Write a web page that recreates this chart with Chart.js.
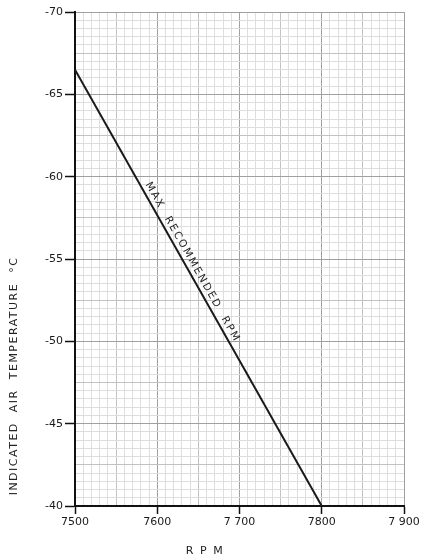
<!DOCTYPE html>
<html>
<head>
<meta charset="utf-8">
<script src="https://cdn.jsdelivr.net/npm/chart.js@4"></script>
<style>
  html, body { margin: 0; padding: 0; background: #fff; }
  #wrap { width: 423px; height: 558px; }
</style>
</head>
<body>
<div id="wrap"><canvas id="ChartRpm"></canvas></div>
<script>
// max recommended rpm line
const rpmValues = [7500, 7800];
const tempValues = [-66.5, -40];

const xTickValues = [7500, 7600, 7700, 7800, 7900];
const xTickLabels = ["7500", "7600", "7 700", "7800", "7 900"];
const yTickValues = [-70, -65, -60, -55, -50, -45, -40];
const yTickLabels = ["-70", "-65", "-60", "-55", "-50", "-45", "-40"];

const lineLabel = "MAX  RECOMMENDED  RPM";
const xTitle = "R P M";
const yTitle = "INDICATED  AIR  TEMPERATURE  \u00B0C";

function near(v, list) {
  return list.findIndex(t => Math.abs(t - v) < 1e-6);
}
function gridLevel(v, major, medium) {
  const r = v / major;
  if (Math.abs(r - Math.round(r)) < 1e-6) return 2;
  const m = v / medium;
  if (Math.abs(m - Math.round(m)) < 1e-6) return 1;
  return 0;
}
const gridColors = ["#dedede", "#c2c2c2", "#a0a0a0"];

const textPlugin = {
  id: "textPlugin",
  afterDatasetsDraw(chart) {
    const ctx = chart.ctx;
    const xs = chart.scales.x, ys = chart.scales.y;
    const x1 = xs.getPixelForValue(rpmValues[0]), y1 = ys.getPixelForValue(tempValues[0]);
    const x2 = xs.getPixelForValue(rpmValues[1]), y2 = ys.getPixelForValue(tempValues[1]);
    const ang = Math.atan2(y2 - y1, x2 - x1);
    const len = Math.hypot(x2 - x1, y2 - y1);
    ctx.save();
    ctx.translate(x1, y1);
    ctx.rotate(ang);
    ctx.fillStyle = "#222";
    ctx.font = "10.5px 'DejaVu Sans'";
    ctx.letterSpacing = "1.8px";
    ctx.textAlign = "center";
    ctx.textBaseline = "middle";
    ctx.fillText(lineLabel, len * 0.45, -7.5);
    ctx.restore();

    // axis titles
    ctx.save();
    ctx.fillStyle = "#222";
    ctx.font = "11px 'DejaVu Sans'";
    ctx.letterSpacing = "1.5px";
    ctx.textAlign = "center";
    ctx.textBaseline = "middle";
    ctx.fillText(xTitle, 205, 551);
    ctx.translate(14, 376);
    ctx.rotate(-Math.PI / 2);
    ctx.fillText(yTitle, 0, 0);
    ctx.restore();
  }
};

new Chart(document.getElementById("ChartRpm"), {
  type: "line",
  data: {
    datasets: [
      {
        data: rpmValues.map((r, i) => ({ x: r, y: tempValues[i] })),
        borderColor: "#1a1a1a",
        borderWidth: 2,
        pointRadius: 0,
        tension: 0,
      },
    ],
  },
  options: {
    responsive: true,
    maintainAspectRatio: false,
    animation: false,
    layout: { padding: { left: 0, top: 12, right: 19, bottom: 0 } },
    plugins: { legend: { display: false }, tooltip: { enabled: false } },
    scales: {
      x: {
        type: "linear",
        min: 7500,
        max: 7900,
        afterFit(scale) { scale.height = 52; },
        border: { color: "#111", width: 2 },
        grid: {
          color: c => gridColors[gridLevel(c.tick.value, 100, 50)],
          lineWidth: 1,
          tickLength: 8,
          tickColor: c => (near(c.tick.value, xTickValues) >= 0 ? "#111" : "rgba(0,0,0,0)"),
          tickWidth: 1.5,
        },
        ticks: {
          stepSize: 10,
          autoSkip: false,
          maxRotation: 0,
          padding: 2,
          color: "#1a1a1a",
          font: { family: "DejaVu Sans", size: 11 },
          callback: v => {
            const i = near(v, xTickValues);
            return i >= 0 ? xTickLabels[i] : "";
          },
        },
      },
      y: {
        type: "linear",
        reverse: true,
        min: -70,
        max: -40,
        afterFit(scale) { scale.width = 75; },
        border: { color: "#111", width: 2 },
        grid: {
          color: c => gridColors[gridLevel(c.tick.value, 5, 2.5)],
          lineWidth: 1,
          tickLength: 10,
          tickColor: c => (near(c.tick.value, yTickValues) >= 0 ? "#111" : "rgba(0,0,0,0)"),
          tickWidth: 1.5,
        },
        ticks: {
          stepSize: 0.5,
          autoSkip: false,
          padding: 2,
          color: "#1a1a1a",
          font: { family: "DejaVu Sans", size: 11 },
          callback: v => {
            const i = near(v, yTickValues);
            return i >= 0 ? yTickLabels[i] : "";
          },
        },
      },
    },
  },
  plugins: [textPlugin],
});
</script>
</body>
</html>
